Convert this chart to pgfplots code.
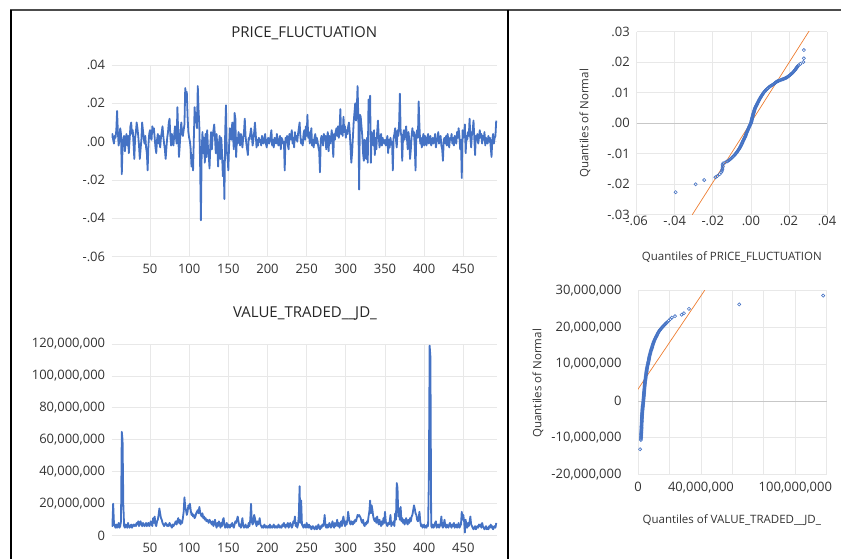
\documentclass[border=0pt]{standalone}
\usepackage{fontspec}
\setmainfont{Open Sans}
\usepackage{pgfplots}
\usepackage{pgfplotstable}
\pgfplotsset{compat=1.18}
\definecolor{sblue}{HTML}{4472C4}
\definecolor{sorange}{HTML}{ED7D31}

% PRICE_FLUCTUATION in thousandths (axis labels show the real values)
\pgfplotstableread[row sep=\\]{
y\\
2\\4\\1\\-1\\3\\2\\6\\16\\5\\-2\\
1\\7\\4\\-17\\-3\\2\\3\\-5\\1\\4\\
-2\\3\\-6\\1\\8\\10\\4\\6\\-1\\-9\\
2\\5\\10\\7\\3\\-2\\-9\\-4\\1\\10\\
6\\2\\-1\\3\\-3\\-6\\-15\\-2\\4\\6\\
2\\1\\8\\5\\7\\2\\-3\\-6\\1\\4\\
-1\\3\\-3\\2\\5\\8\\3\\-1\\-4\\-9\\
-3\\2\\5\\10\\12\\3\\-2\\4\\1\\-2\\
4\\8\\3\\-1\\18\\5\\-8\\-2\\6\\10\\
4\\3\\6\\9\\28\\24\\26\\13\\5\\2\\
0\\-4\\-13\\-7\\-15\\2\\18\\10\\15\\7\\
29\\17\\8\\-12\\-41\\-5\\5\\-6\\2\\-11\\
4\\-8\\6\\-3\\-7\\-14\\-2\\5\\-4\\3\\
6\\9\\2\\-6\\4\\-3\\-13\\-1\\3\\-9\\
2\\-6\\-18\\-10\\-30\\5\\19\\-5\\-8\\-15\\
-2\\7\\4\\1\\10\\3\\-4\\15\\12\\-8\\
2\\-1\\5\\3\\-2\\4\\1\\-3\\2\\5\\
12\\3\\-1\\-4\\-7\\2\\1\\4\\7\\3\\
-2\\1\\5\\10\\4\\-3\\1\\-2\\2\\0\\
1\\-2\\3\\0\\-1\\2\\4\\-1\\-3\\1\\
2\\-1\\0\\3\\6\\-2\\1\\-3\\2\\1\\
-1\\4\\0\\-2\\1\\3\\-4\\2\\1\\-1\\
0\\-15\\2\\1\\3\\-2\\-4\\4\\1\\3\\
6\\-1\\2\\-3\\5\\1\\3\\0\\4\\7\\
10\\3\\-1\\1\\-2\\4\\6\\1\\8\\3\\
14\\2\\5\\-1\\3\\7\\-2\\1\\-3\\2\\
4\\-1\\2\\0\\-3\\-5\\-16\\1\\3\\2\\
-2\\4\\1\\3\\-4\\2\\5\\-5\\3\\-1\\
2\\6\\0\\-8\\4\\1\\5\\7\\3\\8\\
2\\5\\17\\4\\7\\3\\13\\5\\8\\2\\
6\\4\\8\\10\\5\\-3\\-11\\-6\\2\\10\\
15\\20\\11\\17\\29\\12\\-25\\14\\13\\8\\
3\\-6\\-10\\1\\-7\\-9\\2\\-11\\22\\10\\
24\\-11\\5\\3\\-2\\6\\-7\\2\\-4\\5\\
11\\3\\-3\\1\\4\\-2\\2\\0\\-1\\1\\
-2\\0\\3\\-6\\1\\-3\\2\\-1\\0\\-15\\
2\\4\\7\\1\\-3\\6\\3\\9\\25\\5\\
3\\-10\\2\\6\\1\\4\\8\\2\\-4\\5\\
1\\-9\\-4\\3\\7\\3\\5\\-3\\-15\\4\\
6\\2\\21\\8\\-1\\2\\-3\\1\\4\\-2\\
3\\1\\-2\\2\\4\\-1\\1\\3\\-2\\0\\
2\\-1\\1\\4\\-3\\0\\2\\5\\-1\\1\\
3\\-2\\-4\\-10\\1\\2\\-1\\3\\-2\\4\\
0\\-3\\2\\1\\4\\-1\\2\\-2\\3\\1\\
-1\\5\\2\\7\\3\\-4\\1\\-19\\6\\2\\
4\\9\\-6\\3\\1\\5\\3\\12\\2\\-3\\
4\\6\\11\\2\\-7\\3\\1\\4\\-1\\2\\
6\\2\\4\\-1\\3\\1\\5\\-2\\2\\1\\
-1\\3\\0\\2\\-3\\-8\\1\\4\\-1\\2\\
3\\11\\
}\pricetab

% VALUE_TRADED__JD_ in millions
\pgfplotstableread[row sep=\\]{
y\\
7\\6\\20\\8\\6\\5\\7\\5\\6\\8\\
5\\6\\9\\65\\60\\19\\6\\5\\7\\6\\
5\\8\\6\\5\\6\\7\\5\\6\\7\\6\\
7\\6\\8\\7\\9\\6\\8\\9\\7\\6\\
8\\7\\6\\7\\8\\6\\7\\8\\6\\7\\
9\\7\\6\\11\\8\\12\\7\\6\\9\\10\\
13\\17\\14\\11\\10\\8\\7\\6\\7\\8\\
7\\6\\7\\6\\8\\7\\6\\5\\7\\6\\
7\\8\\9\\7\\9\\11\\8\\10\\7\\9\\
8\\11\\15\\24\\18\\16\\13\\15\\19\\17\\
20\\16\\13\\14\\12\\13\\11\\12\\14\\15\\
16\\14\\18\\15\\13\\12\\14\\11\\12\\10\\
11\\9\\10\\9\\8\\10\\9\\8\\7\\9\\
6\\8\\10\\7\\5\\8\\6\\9\\7\\5\\
8\\6\\10\\11\\7\\5\\6\\8\\5\\7\\
6\\5\\7\\6\\8\\6\\5\\7\\9\\8\\
10\\12\\9\\6\\7\\5\\8\\11\\6\\5\\
6\\7\\5\\6\\5\\8\\6\\10\\20\\9\\
7\\8\\13\\11\\8\\6\\9\\7\\8\\11\\
7\\6\\5\\6\\5\\7\\6\\5\\6\\5\\
6\\5\\7\\5\\6\\5\\6\\7\\5\\6\\
5\\6\\5\\7\\6\\5\\6\\5\\7\\6\\
8\\6\\5\\7\\6\\8\\5\\6\\8\\7\\
5\\6\\9\\8\\12\\6\\8\\5\\7\\13\\
31\\8\\22\\7\\6\\5\\7\\6\\5\\8\\
6\\5\\7\\5\\6\\4\\5\\6\\5\\4\\
5\\6\\4\\5\\7\\5\\4\\6\\5\\7\\
6\\8\\13\\6\\5\\7\\5\\6\\8\\6\\
5\\7\\9\\6\\5\\8\\6\\7\\10\\6\\
8\\5\\7\\9\\6\\10\\12\\8\\6\\9\\
7\\10\\15\\11\\8\\7\\9\\8\\7\\9\\
8\\10\\9\\11\\13\\12\\13\\12\\11\\9\\
8\\10\\7\\6\\8\\7\\9\\8\\12\\15\\
22\\14\\19\\16\\12\\10\\9\\11\\8\\12\\
9\\7\\10\\8\\6\\9\\7\\11\\8\\15\\
9\\7\\6\\8\\7\\9\\13\\6\\8\\7\\
9\\6\\14\\10\\33\\30\\12\\17\\10\\18\\
9\\11\\8\\10\\7\\9\\11\\8\\7\\10\\
8\\11\\9\\12\\13\\16\\19\\17\\14\\13\\
10\\9\\11\\15\\9\\6\\7\\5\\6\\7\\
5\\6\\5\\7\\6\\35\\119\\112\\6\\5\\
7\\5\\6\\8\\9\\5\\6\\7\\5\\6\\
8\\12\\6\\5\\7\\10\\6\\5\\7\\6\\
5\\7\\8\\6\\5\\7\\6\\8\\5\\6\\
7\\5\\6\\8\\5\\6\\7\\15\\10\\13\\
9\\2\\10\\6\\5\\8\\6\\9\\12\\7\\
6\\5\\4\\5\\6\\4\\5\\6\\5\\7\\
6\\7\\5\\8\\6\\5\\4\\5\\6\\4\\
5\\4\\6\\5\\7\\5\\6\\4\\5\\6\\
5\\8\\
}\valuetab

\pgfplotsset{
  every tick label/.append style={font=\fontsize{13bp}{15bp}\selectfont, text=black!80},
  panel/.style={
    scale only axis, anchor=south west,
    axis line style={draw=none}, major tick length=0pt,
    grid=major, major grid style={black!9, line width=0.8bp},
    /pgf/number format/assume math mode=true,
  },
  qqmarks/.style={only marks, mark=o, mark size=1.6bp, mark options={draw=sblue, line width=0.6bp}},
}

\begin{document}
\begin{tikzpicture}[x=1bp,y=1bp]
\useasboundingbox (0,0) rectangle (841,559);

% ---- PRICE_FLUCTUATION time series
\begin{axis}[panel,
  at={(111.6bp,302.3bp)}, width=385.4bp, height=191.7bp,
  xmin=1, xmax=493, ymin=-60, ymax=40,
  xtick={50,100,...,450},
  xticklabels={50,100,150,200,250,300,350,400,450},
  ytick={-60,-40,...,40},
  yticklabels={-.06,-.04,-.02,.00,.02,.04},
  xticklabel style={anchor=center, inner sep=0pt, yshift=-12.6bp},
  yticklabel style={anchor=east, inner sep=0pt, xshift=-6.3bp},
]
\addplot[sblue, line width=1.8bp, line join=round, mark=none]
  table[x expr=\coordindex+1, y=y] {\pricetab};
\end{axis}

% ---- VALUE_TRADED__JD_ time series
\begin{axis}[panel,
  at={(111.6bp,23.3bp)}, width=385.4bp, height=191.7bp,
  xmin=1, xmax=493, ymin=0, ymax=120,
  xtick={50,100,...,450},
  xticklabels={50,100,150,200,250,300,350,400,450},
  ytick={0,20,...,120},
  yticklabels={0,{20,000,000},{40,000,000},{60,000,000},{80,000,000},{100,000,000},{120,000,000}},
  xticklabel style={anchor=center, inner sep=0pt, yshift=-12.6bp},
  yticklabel style={anchor=east, inner sep=0pt, xshift=-6.3bp},
]
\addplot[sblue, line width=1.8bp, line join=round, mark=none]
  table[x expr=\coordindex+1, y=y] {\valuetab};
\end{axis}

% ---- QQ plot PRICE_FLUCTUATION (thousandths)
\begin{axis}[panel,
  at={(636.6bp,344.2bp)}, width=190.5bp, height=183bp,
  xmin=-60, xmax=40, ymin=-30, ymax=30,
  xtick={-60,-40,...,40},
  xticklabels={-.06,-.04,-.02,.00,.02,.04},
  ytick={-30,-20,...,30},
  yticklabels={-.03,-.02,-.01,.00,.01,.02,.03},
  extra y ticks={0}, extra y tick labels={},
  extra y tick style={grid=major, major grid style={black!22, line width=0.9bp}},
  xticklabel style={anchor=center, inner sep=0pt, yshift=-6.5bp},
  yticklabel style={anchor=east, inner sep=0pt, xshift=-6.6bp},
]
\addplot[sorange, line width=0.7bp, mark=none] coordinates {(-30.8,-30.0) (30.6,30.3)};
\addplot[qqmarks] coordinates {
(-39.5,-22.6) (-29.0,-20.0) (-24.5,-18.6) (-18.6,-17.7) (-17.6,-17.3) (-16.4,-16.7)
(-15.6,-16.1) (-15.2,-15.6) (-15.0,-15.1) (-14.9,-14.6) (-14.7,-14.1) (-14.9,-13.6) (-14.6,-13.1)
(-12.5,-12.5) (-11.2,-12.0) (-10.3,-11.5) (-9.5,-11.0) (-8.7,-10.5) (-8.0,-10.0) (-7.4,-9.5)
(-6.8,-9.0) (-6.3,-8.5) (-5.8,-8.0) (-5.4,-7.5) (-5.0,-7.0) (-4.6,-6.5) (-4.3,-6.0) (-3.9,-5.5)
(-3.5,-5.0) (-3.1,-4.5) (-2.8,-4.0) (-2.5,-3.5) (-2.2,-3.0) (-1.8,-2.5) (-1.5,-2.0) (-1.1,-1.5)
(-0.8,-1.0) (-0.4,-0.5) (0.0,0.0) (0.2,0.5) (0.4,1.0) (0.6,1.5) (0.8,2.0) (1.0,2.5) (1.2,3.0)
(1.45,3.5) (1.7,4.0) (1.95,4.5) (2.2,5.0) (2.6,5.5) (3.0,6.0) (3.4,6.5) (3.8,7.0) (4.2,7.5)
(4.6,8.0) (5.1,8.5) (5.6,9.0) (6.1,9.5) (6.6,10.0) (7.3,10.5) (8.0,11.0) (8.9,11.5) (9.8,12.0)
(10.8,12.4) (11.8,12.8) (12.6,13.2) (13.2,13.5) (14.0,13.8) (14.8,14.0) (16.0,14.3) (17.0,14.5)
(18.0,14.8) (18.8,15.0) (19.7,15.4) (20.5,15.8) (21.2,16.2) (21.8,16.5) (22.5,17.0) (23.2,17.5)
(23.8,18.0) (24.3,18.5) (25.0,19.0) (26.0,19.5) (27.5,20.1) (27.8,21.3) (27.8,24.0)
(-13.5,-12.8) (-11.8,-12.25) (-10.8,-11.75) (-9.9,-11.25) (-9.1,-10.75) (-8.35,-10.25)
(-7.7,-9.75) (-7.1,-9.25) (-6.55,-8.75) (-6.05,-8.25) (-5.6,-7.75) (-5.2,-7.25) (-4.8,-6.75)
(-4.45,-6.25) (-4.1,-5.75) (-3.7,-5.25) (-3.3,-4.75) (-2.95,-4.25) (-2.65,-3.75) (-2.35,-3.25)
(-2.0,-2.75) (-1.65,-2.25) (-1.3,-1.75) (-0.95,-1.25) (-0.6,-0.75) (-0.2,-0.25) (0.1,0.25)
(0.3,0.75) (0.5,1.25) (0.7,1.75) (0.9,2.25) (1.1,2.75) (1.3,3.25) (1.6,3.75) (1.8,4.25)
(2.1,4.75) (2.4,5.25) (2.8,5.75) (3.2,6.25) (3.6,6.75) (4.0,7.25) (4.4,7.75) (4.85,8.25)
(5.35,8.75) (5.85,9.25) (6.35,9.75) (6.95,10.25) (7.65,10.75) (8.45,11.25) (9.35,11.75)
(10.3,12.2) (11.3,12.6) (12.2,13.0) (12.9,13.35) (13.6,13.65) (14.4,13.9) (15.4,14.15)
(16.5,14.4) (17.5,14.65) (18.4,14.9) (19.2,15.2) (20.1,15.6) (20.9,16.0) (21.5,16.35)
(22.2,16.75) (22.9,17.25) (23.5,17.75) (24.0,18.25) (24.6,18.75)
};
\end{axis}

% ---- QQ plot VALUE_TRADED__JD_ (millions)
\begin{axis}[panel,
  at={(638bp,84.3bp)}, width=188.8bp, height=184.3bp,
  xmin=0, xmax=120, ymin=-20, ymax=30,
  xtick={0,20,...,120},
  xticklabels={0,{},{40,000,000},{},{},{100,000,000},{}},
  ytick={-20,-10,...,30},
  yticklabels={{-20,000,000},{-10,000,000},0,{10,000,000},{20,000,000},{30,000,000}},
  extra y ticks={0}, extra y tick labels={},
  extra y tick style={grid=major, major grid style={black!22, line width=0.9bp}},
  xticklabel style={anchor=center, inner sep=0pt, yshift=-12.6bp},
  yticklabel style={anchor=east, inner sep=0pt, xshift=-16.3bp},
]
\addplot[sorange, line width=0.7bp, mark=none] coordinates {(-0.5,2.9) (42.5,30.1)};
\addplot[qqmarks] coordinates {
(1.3,-13.1) (1.8,-10.6) (1.9,-10.0) (2.0,-9.5) (2.0,-9.0) (2.1,-8.5) (2.1,-8.0) (2.2,-7.5)
(2.2,-7.0) (2.3,-6.5) (2.3,-6.0) (2.4,-5.5) (2.4,-5.0) (2.5,-4.5) (2.5,-4.0) (2.6,-3.5)
(2.7,-3.0) (2.8,-2.5) (2.9,-2.0) (3.0,-1.5) (3.1,-1.0) (3.3,-0.5) (3.4,0) (3.5,0.5) (3.6,1.0)
(3.7,1.5) (3.8,2.0) (3.9,2.5) (4.0,3.0) (4.1,3.5) (4.2,4.0) (4.3,4.5) (4.4,5.0) (4.6,5.5)
(4.8,6.0) (4.9,6.5) (5.1,7.0) (5.2,7.5) (5.4,8.0) (5.6,8.5) (5.8,9.0) (6.0,9.5) (6.3,10.0)
(6.5,10.5) (6.8,11.0) (7.0,11.5) (7.2,12.0) (7.5,12.5) (7.8,13.0) (8.1,13.5) (8.5,14.0)
(8.9,14.5) (9.2,15.0) (9.6,15.5) (10.0,16.0) (10.5,16.5) (11.0,17.0) (11.6,17.5) (12.2,18.0)
(12.8,18.5) (13.5,19.0) (14.2,19.4) (15.0,19.8) (15.8,20.2) (16.7,20.6) (17.6,21.0) (18.6,21.4)
(19.5,21.8) (20.5,22.2) (21.5,22.6) (23.5,23.0) (27.7,23.4) (29.2,23.8) (32.4,25.0)
(64.3,26.2) (117.7,28.6)
(1.85,-10.3) (1.95,-9.75) (2.0,-9.25) (2.05,-8.75) (2.1,-8.25) (2.15,-7.75) (2.2,-7.25)
(2.25,-6.75) (2.3,-6.25) (2.35,-5.75) (2.4,-5.25) (2.45,-4.75) (2.5,-4.25) (2.55,-3.75)
(2.65,-3.25) (2.75,-2.75) (2.85,-2.25) (2.95,-1.75) (3.05,-1.25) (3.2,-0.75) (3.35,-0.25)
(3.45,0.25) (3.55,0.75) (3.65,1.25) (3.75,1.75) (3.85,2.25) (3.95,2.75) (4.05,3.25)
(4.15,3.75) (4.25,4.25) (4.35,4.75) (4.5,5.25) (4.7,5.75) (4.85,6.25) (5.0,6.75) (5.15,7.25)
(5.3,7.75) (5.5,8.25) (5.7,8.75) (5.9,9.25) (6.15,9.75) (6.4,10.25) (6.65,10.75) (6.9,11.25)
(7.1,11.75) (7.35,12.25) (7.65,12.75) (7.95,13.25) (8.3,13.75) (8.7,14.25) (9.05,14.75)
(9.4,15.25) (9.8,15.75) (10.25,16.25) (10.75,16.75) (11.3,17.25) (11.9,17.75) (12.5,18.25)
(13.15,18.75) (13.85,19.2) (14.6,19.6) (15.4,20.0) (16.25,20.4) (17.15,20.8) (18.1,21.2)
};
\end{axis}

% ---- titles and axis labels
\node[anchor=base, font=\fontsize{15bp}{17bp}\selectfont, text=black!85] at (304.3,521.4) {PRICE\_FLUCTUATION};
\node[anchor=base, font=\fontsize{15bp}{17bp}\selectfont, text=black!85] at (305,241.4) {VALUE\_TRADED\_\_JD\_};
\node[anchor=base, font=\fontsize{11.5bp}{13bp}\selectfont, text=black!80] at (731.8,298) {Quantiles of PRICE\_FLUCTUATION};
\node[anchor=base, font=\fontsize{11.5bp}{13bp}\selectfont, text=black!80] at (731.8,35.7) {Quantiles of VALUE\_TRADED\_\_JD\_};
\node[anchor=base, rotate=90, font=\fontsize{11.5bp}{13bp}\selectfont, text=black!80] at (588.3,435.7) {Quantiles of Normal};
\node[anchor=base, rotate=90, font=\fontsize{11.5bp}{13bp}\selectfont, text=black!80] at (541.3,175.7) {Quantiles of Normal};

% ---- frame
\draw[black!70, line width=2.5bp] (10,549) -- (841,549);
\draw[black, line width=2.2bp] (11,549) -- (11,0);
\draw[black, line width=2.5bp] (508,549) -- (508,0);
\end{tikzpicture}
\end{document}
